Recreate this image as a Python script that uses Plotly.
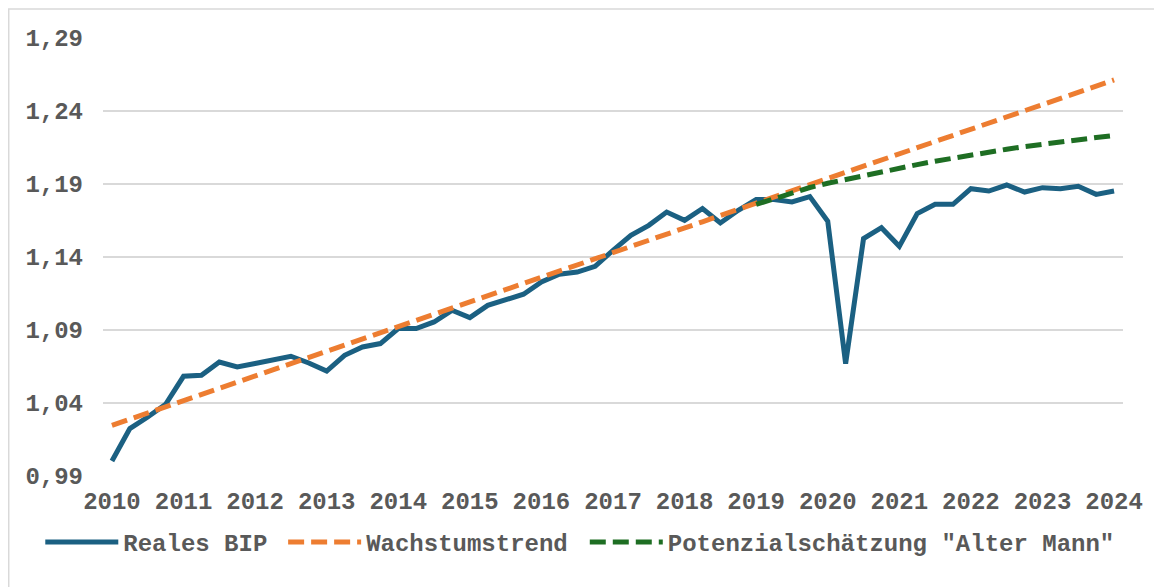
import plotly.graph_objects as go

# Quarterly data 2010Q1 .. 2024Q1 (index 0..56)
quarter_index = list(range(57))

reales_bip = [
    1.0003, 1.0225, 1.0304, 1.0391, 1.0583, 1.0590, 1.0681, 1.0647,
    1.0670, 1.0692, 1.0720, 1.0674, 1.0619, 1.0727, 1.0784, 1.0807,
    1.0910, 1.0910, 1.0955, 1.1035, 1.0985, 1.1069, 1.1104, 1.1145,
    1.1229, 1.1282, 1.1297, 1.1336, 1.1446, 1.1549, 1.1617, 1.1708,
    1.1651, 1.1732, 1.1633, 1.1720, 1.1793, 1.1793, 1.1777, 1.1814,
    1.1645, 1.0670, 1.1526, 1.1601, 1.1473, 1.1697, 1.1761, 1.1761,
    1.1868, 1.1852, 1.1893, 1.1845, 1.1875, 1.1868, 1.1884, 1.1829,
    1.1852,
]

wachstumstrend = [
    1.0247, 1.0289, 1.0332, 1.0374, 1.0416, 1.0458, 1.0501, 1.0543,
    1.0585, 1.0627, 1.0670, 1.0712, 1.0754, 1.0796, 1.0839, 1.0881,
    1.0923, 1.0965, 1.1008, 1.1050, 1.1092, 1.1134, 1.1177, 1.1219,
    1.1261, 1.1303, 1.1346, 1.1388, 1.1430, 1.1472, 1.1515, 1.1557,
    1.1599, 1.1641, 1.1684, 1.1726, 1.1768, 1.1810, 1.1853, 1.1895,
    1.1937, 1.1979, 1.2022, 1.2064, 1.2106, 1.2148, 1.2191, 1.2233,
    1.2275, 1.2317, 1.2360, 1.2402, 1.2444, 1.2486, 1.2529, 1.2571,
    1.2613,
]

potenzial_index = list(range(36, 57))
potenzialschaetzung = [
    1.1760, 1.1800, 1.1840, 1.1876, 1.1905, 1.1932, 1.1958, 1.1984,
    1.2009, 1.2033, 1.2056, 1.2078, 1.2099, 1.2119, 1.2138, 1.2156,
    1.2173, 1.2189, 1.2204, 1.2218, 1.2232,
]

x_tick_vals = [0, 4, 8, 12, 16, 20, 24, 28, 32, 36, 40, 44, 48, 52, 56]
x_tick_text = ["2010", "2011", "2012", "2013", "2014", "2015", "2016", "2017",
               "2018", "2019", "2020", "2021", "2022", "2023", "2024"]
y_tick_vals = [0.99, 1.04, 1.09, 1.14, 1.19, 1.24, 1.29]
y_tick_text = ["0,99", "1,04", "1,09", "1,14", "1,19", "1,24", "1,29"]

series_names = ["Reales BIP", "Wachstumstrend", 'Potenzialschätzung "Alter Mann"']

FONT = "Liberation Mono, Courier New, monospace"
TXT = "#595959"


def spacer(px_font):
    # invisible trailing space to widen a horizontal legend entry
    return "<span style='font-size:%dpx'>\u00a0</span>" % px_font


fig = go.Figure()
fig.add_trace(go.Scatter(
    x=quarter_index, y=reales_bip, mode="lines",
    name=series_names[0] + spacer(18),
    line=dict(color="#1B6082", width=5),
))
fig.add_trace(go.Scatter(
    x=quarter_index, y=wachstumstrend, mode="lines",
    name=series_names[1] + spacer(20),
    line=dict(color="#ED7D31", width=5, dash="16px,7px"),
))
fig.add_trace(go.Scatter(
    x=potenzial_index, y=potenzialschaetzung, mode="lines",
    name=series_names[2],
    line=dict(color="#1E6E23", width=5, dash="16px,7px"),
))

# page body has an 8px margin; figure coordinates are offset accordingly
W, H = 1154, 579
L, T = 95, 29.7
R = W - 1114.7
B = H - 467.7
pw = W - L - R
ph = H - T - B

fig.update_layout(
    width=W, height=H,
    margin=dict(l=L, r=R, t=T, b=B, pad=0),
    paper_bgcolor="white", plot_bgcolor="white",
    font=dict(family=FONT, size=24, color=TXT, weight="bold"),
    showlegend=True,
    legend=dict(
        orientation="h",
        x=(32.3 - L) / pw, xanchor="left",
        y=(T + ph - 534) / ph, yanchor="middle",
        font=dict(family=FONT, size=24, color=TXT, weight="bold"),
        itemwidth=73,
        tracegroupgap=0,
        bgcolor="rgba(0,0,0,0)",
    ),
    xaxis=dict(
        range=[-0.5, 56.5],
        tickmode="array", tickvals=x_tick_vals, ticktext=x_tick_text,
        showgrid=False, zeroline=False, showline=False,
        ticks="", ticklabelstandoff=8,
        tickfont=dict(family=FONT, size=24, color=TXT, weight="bold"),
        fixedrange=True,
    ),
    yaxis=dict(
        range=[0.99, 1.29],
        tickmode="array", tickvals=y_tick_vals, ticktext=y_tick_text,
        showgrid=True, gridcolor="#D9D9D9", gridwidth=1.5,
        zeroline=False, showline=False,
        ticks="", ticklabelstandoff=19,
        tickfont=dict(family=FONT, size=24, color=TXT, weight="bold"),
        fixedrange=True,
    ),
    shapes=[dict(
        type="rect", xref="paper", yref="paper",
        x0=(0.75 - L) / pw, x1=(W + 20 - L) / pw,
        y0=(T + ph - (H + 20)) / ph, y1=(T + ph - 0.75) / ph,
        line=dict(color="#D9D9D9", width=1.5),
        fillcolor="rgba(0,0,0,0)", layer="below",
    )],
)

fig.write_html("out.html")
